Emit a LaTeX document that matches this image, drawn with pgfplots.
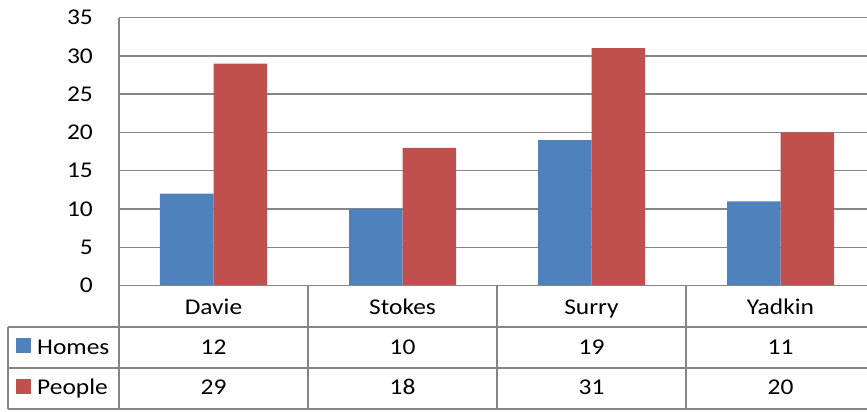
\documentclass[border=0pt]{standalone}
\usepackage{pgfplots}
\pgfplotsset{compat=1.18}
\usepackage{fontspec}
\setmainfont{Carlito}[FakeStretch=1.13]
\definecolor{homes}{RGB}{79,129,189}
\definecolor{people}{RGB}{192,80,77}
\definecolor{gridgray}{RGB}{134,134,134}
\begin{document}
\begin{tikzpicture}[x=1bp,y=1bp]
\begin{axis}[at={(0,0)},anchor=south west, scale only axis, width=756bp, height=268bp,
 ymin=0,ymax=35, ytick={0,5,...,35}, xmin=-0.5,xmax=3.5, xtick=\empty,
 axis y line*=left, axis x line*=bottom, axis line style={draw=gridgray, line width=1.5bp},
 ymajorgrids, grid style={draw=gridgray,line width=1.5bp}, major tick length=0pt,
 yticklabel style={font=\fontsize{22.6}{26}\selectfont, anchor=east, inner sep=0pt, xshift=-26bp},
 /pgf/number format/assume math mode=true,
 ybar=0pt, bar width=53.5bp, clip=false]
\addplot[fill=homes, draw=none] coordinates {(0,12)(1,10)(2,19)(3,11)};
\addplot[fill=people, draw=none] coordinates {(0,29)(1,18)(2,31)(3,20)};
\end{axis}
\begin{scope}[draw=gridgray, line width=1.5bp]
\draw (-111,-41.4) -- (760,-41.4);
\draw (-111,-82.4) -- (760,-82.4);
\draw (-111,-123.4) -- (760,-123.4);
\draw (0,0) -- (760,0);
\draw (-111,-41.4) -- (-111,-123.4);
\foreach \X in {0,189,378,567} \draw (\X,0) -- (\X,-123.4);
\end{scope}
\begin{scope}[every node/.style={font=\fontsize{22.6}{26}\selectfont, inner sep=0pt}]
\node[anchor=base] at (94.5,-28.7) {Davie};
\node[anchor=base] at (283.5,-28.7) {Stokes};
\node[anchor=base] at (472.5,-28.7) {Surry};
\node[anchor=base] at (661.5,-28.7) {Yadkin};
\node[anchor=base] at (94.5,-68.7) {12};
\node[anchor=base] at (283.5,-68.7) {10};
\node[anchor=base] at (472.5,-68.7) {19};
\node[anchor=base] at (661.5,-68.7) {11};
\node[anchor=base] at (94.5,-108.7) {29};
\node[anchor=base] at (283.5,-108.7) {18};
\node[anchor=base] at (472.5,-108.7) {31};
\node[anchor=base] at (661.5,-108.7) {20};
\fill[homes] (-103,-52.4) rectangle (-88,-67.4);
\fill[people] (-103,-93.4) rectangle (-88,-108.4);
\node[anchor=base west] at (-82,-68.7) {Homes};
\node[anchor=base west] at (-82,-108.7) {People};
\end{scope}
\pgfresetboundingbox
\path (-119,-125.4) rectangle (748,285.6);
\end{tikzpicture}
\end{document}
